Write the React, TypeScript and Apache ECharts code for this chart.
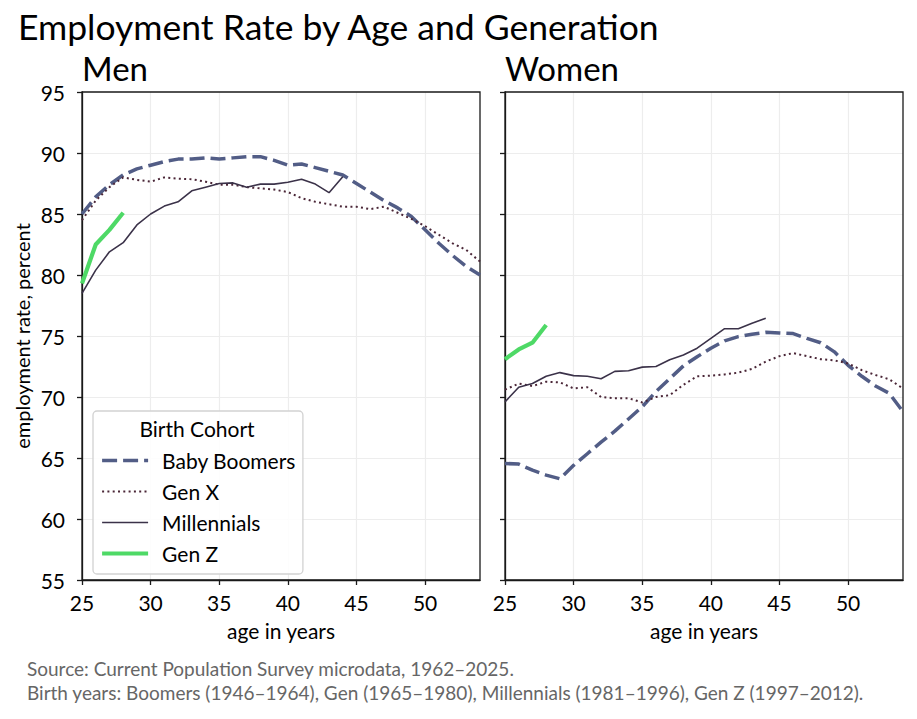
import React, { useEffect, useRef } from 'react';
import * as echarts from 'echarts';

// ages 25..54
const ages = [25, 26, 27, 28, 29, 30, 31, 32, 33, 34, 35, 36, 37, 38, 39, 40, 41, 42, 43, 44, 45, 46, 47, 48, 49, 50, 51, 52, 53, 54];

const cohorts = ['Baby Boomers', 'Gen X', 'Millennials', 'Gen Z'];

const menBoomers = [85.0, 86.4, 87.4, 88.2, 88.7, 89.0, 89.3, 89.5, 89.5, 89.6, 89.5, 89.6, 89.7, 89.7, 89.4, 89.0, 89.1, 88.8, 88.5, 88.2, 87.5, 86.8, 86.1, 85.5, 84.8, 83.7, 82.6, 81.6, 80.7, 80.0];
const menGenX = [84.5, 86.1, 87.2, 88.0, 87.8, 87.65, 88.0, 87.9, 87.85, 87.65, 87.4, 87.4, 87.2, 87.1, 87.0, 86.8, 86.3, 86.0, 85.8, 85.6, 85.6, 85.4, 85.6, 85.1, 84.6, 84.0, 83.3, 82.6, 82.05, 81.1];
const menMillennials = [78.5, 80.4, 81.9, 82.65, 84.1, 85.0, 85.65, 86.0, 86.9, 87.2, 87.5, 87.55, 87.2, 87.45, 87.45, 87.6, 87.85, 87.45, 86.75, 88.05];
const menGenZ = [79.3, 82.5, 83.7, 85.1];

const womenBoomers = [64.55, 64.5, 64.0, 63.6, 63.3, 64.4, 65.35, 66.3, 67.2, 68.2, 69.2, 70.45, 71.5, 72.55, 73.3, 74.0, 74.6, 74.95, 75.15, 75.3, 75.25, 75.2, 74.8, 74.45, 73.7, 72.6, 71.7, 70.9, 70.3, 68.8];
const womenGenX = [70.6, 71.1, 70.9, 71.25, 71.2, 70.7, 70.8, 70.0, 69.9, 69.9, 69.55, 70.0, 70.15, 71.0, 71.7, 71.75, 71.85, 72.0, 72.3, 72.9, 73.35, 73.6, 73.35, 73.1, 73.0, 72.75, 72.2, 71.8, 71.45, 70.7];
const womenMillennials = [69.6, 70.8, 71.1, 71.7, 72.0, 71.75, 71.7, 71.5, 72.1, 72.15, 72.45, 72.5, 73.05, 73.45, 74.0, 74.8, 75.6, 75.6, 76.05, 76.45];
const womenGenZ = [73.1, 73.9, 74.45, 75.9];

const FONT = 'Lato, "DejaVu Sans", sans-serif';
const INK = '#1a1a1a';

const styles: Record<string, any> = {
  'Baby Boomers': { color: '#525d86', width: 3.5, type: [15, 6] },
  'Gen X': { color: '#4a2637', width: 2, type: [2, 3.3] },
  'Millennials': { color: '#3b3249', width: 1.6, type: 'solid' },
  'Gen Z': { color: '#4ed966', width: 4.2, type: 'solid' },
};

const pair = (vals: number[]) => vals.map((v, i) => [ages[i], v]);

const makeSeries = (name: string, vals: number[], idx: number) => ({
  name,
  type: 'line',
  xAxisIndex: idx,
  yAxisIndex: idx,
  symbol: 'none',
  color: styles[name].color,
  lineStyle: styles[name],
  data: pair(vals),
});

const gridLine = { show: true, showMinLine: false, showMaxLine: false, lineStyle: { color: '#ededed', width: 1.2 } };

const xAxisBase = (idx: number) => ({
  type: 'value',
  gridIndex: idx,
  min: 25,
  max: 54,
  interval: 5,
  name: 'age in years',
  nameLocation: 'middle',
  nameGap: 40,
  nameTextStyle: { fontSize: 21, fontFamily: FONT, color: '#000' },
  axisLine: { show: true, lineStyle: { color: INK, width: 1.3 } },
  axisTick: { show: true, length: 5, lineStyle: { color: INK, width: 1.3 } },
  axisLabel: { fontSize: 21, fontFamily: FONT, color: '#000', margin: 12, showMaxLabel: false },
  splitLine: gridLine,
});

const yAxisBase = (idx: number) => ({
  type: 'value',
  gridIndex: idx,
  min: 55,
  max: 95,
  interval: 5,
  axisLine: { show: true, lineStyle: { color: INK, width: 1.3 } },
  axisTick: { show: true, length: 5, lineStyle: { color: INK, width: 1.3 } },
  axisLabel: { show: idx === 0, fontSize: 21, fontFamily: FONT, color: '#000', margin: 17 },
  splitLine: gridLine,
});

const App: React.FC = () => {
  const chartRef = useRef<HTMLDivElement>(null);

  useEffect(() => {
    if (!chartRef.current) return;
    const myChart = echarts.init(chartRef.current, null, { renderer: 'svg' });
    const option = {
      animation: false,
      backgroundColor: '#fff',
      grid: [
        { left: 82, top: 92, width: 398, height: 488, show: true, borderColor: INK, borderWidth: 1.3, z: 3 },
        { left: 505, top: 92, width: 398, height: 488, show: true, borderColor: INK, borderWidth: 1.3, z: 3 },
      ],
      xAxis: [xAxisBase(0), xAxisBase(1)],
      yAxis: [
        {
          ...yAxisBase(0),
          name: 'employment rate, percent',
          nameLocation: 'middle',
          nameGap: 50,
          nameTextStyle: { fontSize: 20, fontFamily: FONT, color: '#000' },
        },
        yAxisBase(1),
      ],
      legend: {
        data: cohorts.map((name) => ({
          name,
          lineStyle: { color: styles[name].color, width: styles[name].width, type: styles[name].type },
        })),
        orient: 'vertical',
        left: 93,
        top: 411,
        padding: [39, 7, 10, 7],
        itemGap: 10,
        itemWidth: 46,
        itemHeight: 14,
        selectedMode: false,
        itemStyle: { opacity: 0 },
        backgroundColor: 'rgba(255,255,255,0.85)',
        borderColor: '#d2d2d2',
        borderWidth: 1.3,
        borderRadius: 4,
        textStyle: { fontSize: 21, fontFamily: FONT, color: '#000', lineHeight: 20, padding: [0, 0, 0, 9] },
      },
      graphic: [
        { type: 'text', x: 18, y: 26, z: 100, style: { text: 'Employment Rate by Age and Generation', font: `35.5px ${FONT}`, fill: '#000', verticalAlign: 'middle' } },
        { type: 'text', x: 82, y: 68, z: 100, style: { text: 'Men', font: `33px ${FONT}`, fill: '#000', verticalAlign: 'middle' } },
        { type: 'text', x: 505, y: 68, z: 100, style: { text: 'Women', font: `33px ${FONT}`, fill: '#000', verticalAlign: 'middle' } },
        { type: 'text', x: 197, y: 428, z: 100, style: { text: 'Birth Cohort', font: `21px ${FONT}`, fill: '#000', align: 'center', verticalAlign: 'middle' } },
        { type: 'text', x: 27, y: 668, z: 100, style: { text: 'Source: Current Population Survey microdata, 1962–2025.', font: `19px ${FONT}`, fill: '#666', verticalAlign: 'middle' } },
        { type: 'text', x: 27, y: 692, z: 100, style: { text: 'Birth years: Boomers (1946–1964), Gen (1965–1980), Millennials (1981–1996), Gen Z (1997–2012).', font: `19px ${FONT}`, fill: '#666', verticalAlign: 'middle' } },
      ],
      series: [
        makeSeries('Baby Boomers', menBoomers, 0),
        makeSeries('Gen X', menGenX, 0),
        makeSeries('Millennials', menMillennials, 0),
        makeSeries('Gen Z', menGenZ, 0),
        makeSeries('Baby Boomers', womenBoomers, 1),
        makeSeries('Gen X', womenGenX, 1),
        makeSeries('Millennials', womenMillennials, 1),
        makeSeries('Gen Z', womenGenZ, 1),
      ],
    };
    myChart.setOption(option);
    return () => { myChart.dispose(); };
  }, []);

  return <div ref={chartRef} style={{ position: 'fixed', left: 0, top: 0, width: 917, height: 719 }} />;
};

export default App;
